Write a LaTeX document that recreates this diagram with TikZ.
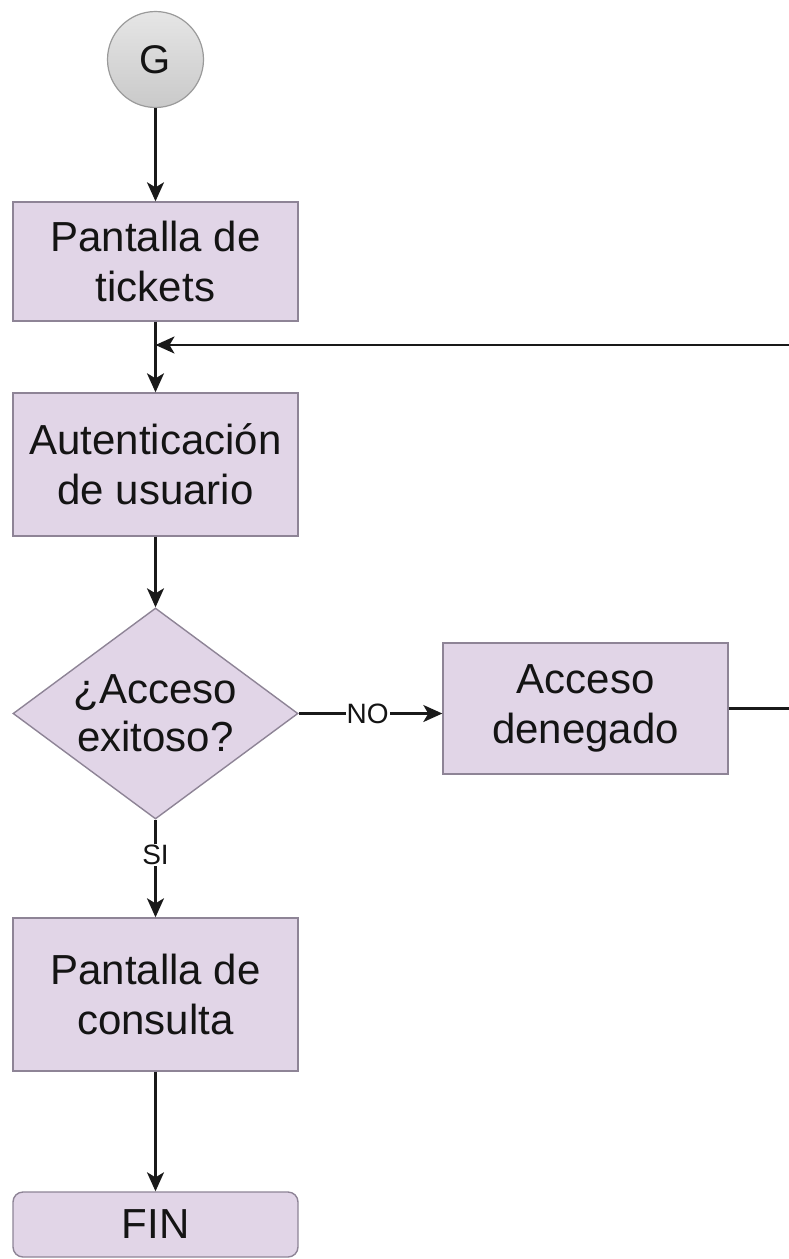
\documentclass[tikz,border=0pt]{standalone}
\usepackage{fontspec}
\setmainfont{Liberation Sans}
\usetikzlibrary{arrows.meta,shapes.geometric}
\definecolor{boxfill}{HTML}{E1D5E7}
\definecolor{boxdraw}{HTML}{8E8496}
\definecolor{txt}{HTML}{141414}
\definecolor{circdraw}{HTML}{9A9A9A}
\tikzset{
  procbox/.style={rectangle, draw=boxdraw, fill=boxfill, line width=1.4pt,
    minimum width=285pt, inner sep=0pt, align=center, text=txt,
    font=\fontsize{42}{50}\selectfont},
  decbox/.style={diamond, draw=boxdraw, fill=boxfill, line width=1.4pt,
    minimum width=285pt, minimum height=211pt, aspect=1.35, inner sep=0pt,
    align=center, text=txt, font=\fontsize{42}{48}\selectfont},
  endbox/.style={procbox, rounded corners=10pt},
  startcirc/.style={circle, draw=circdraw, line width=1.2pt, minimum size=96pt,
    inner sep=0pt, top color=gray!20, middle color=gray!8, bottom color=gray!42,
    text=txt, font=\fontsize{40}{46}\selectfont},
  conn/.style={draw=black!90, line width=2.3pt,
    -{Stealth[length=19pt,width=17pt,inset=5pt]}},
  plainconn/.style={draw=black!90, line width=2.3pt},
  elabel/.style={fill=white, inner sep=1pt, text=txt, font=\fontsize{28}{32}\selectfont}
}
\begin{document}
\begin{tikzpicture}[x=1pt,y=-1pt]
\useasboundingbox (0,0) rectangle (789,1259);
\node[startcirc] (g) at (155.5,59.5) {G};
\node[procbox, minimum height=119pt] (t1) at (155.5,261.5) {Pantalla de\\tickets};
\node[procbox, minimum height=143pt] (t2) at (155.5,464.5) {Autenticación\\de usuario};
\node[decbox] (dia) at (155.5,713.5) {¿Acceso\\exitoso?};
\node[procbox, minimum height=131pt] (d4) at (585.5,708.5) {Acceso\\denegado};
\node[procbox, minimum height=153pt] (t3) at (155.5,994.5) {Pantalla de\\consulta};
\node[endbox, minimum height=65pt] (fin) at (155.5,1224.5) {FIN};
\coordinate (loopR) at (789,345);
\coordinate (outR) at (789,708.5);

\draw[conn] (g) -- (t1);
\draw[conn] (t1) -- (t2);
\draw[conn] (loopR) -- (loopR -| t1.south);
\draw[conn] (t2) -- (dia);
\draw[conn] (dia.east) -- node[elabel, pos=0.48] {NO} (dia.east -| d4.west);
\draw[plainconn] (d4.east) -- (outR);
\draw[conn] (dia.south) -- node[elabel, pos=0.36] {SI} (t3.north);
\draw[conn] (t3) -- (fin);
\end{tikzpicture}
\end{document}
